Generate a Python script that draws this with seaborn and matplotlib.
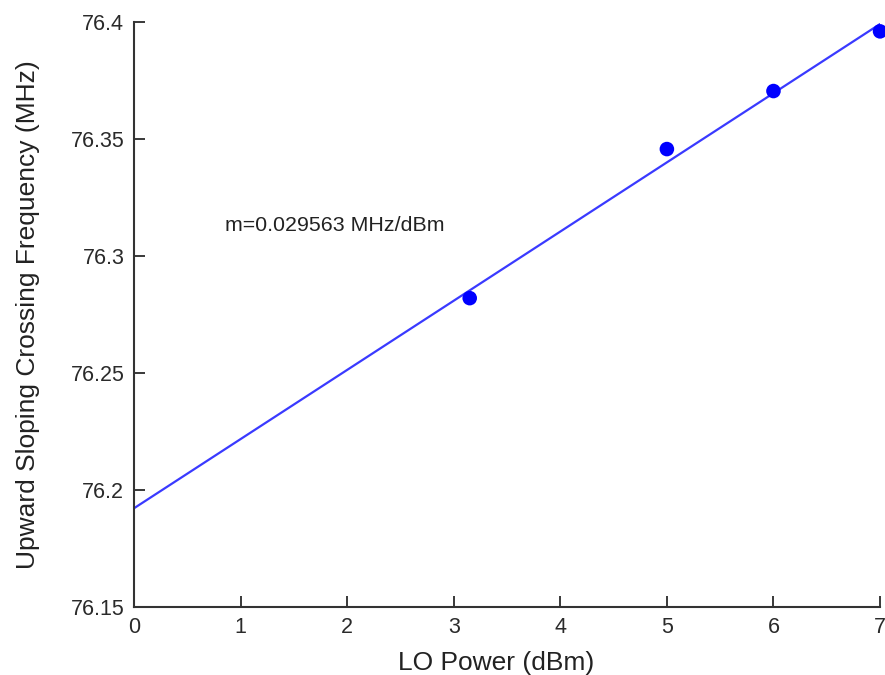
import matplotlib
matplotlib.use("Agg")
import matplotlib.pyplot as plt
import seaborn as sns
import numpy as np
import pandas as pd

# Data
lo_power = [3.15, 5.0, 6.0, 7.0]
crossing_freq = [76.282, 76.3457, 76.3705, 76.396]
fit_slope = 0.029563
fit_intercept = 76.1922
fit_x_range = [0.0, 7.0]
annotation = "m=0.029563 MHz/dBm"
x_ticks = [0, 1, 2, 3, 4, 5, 6, 7]
y_ticks = [76.15, 76.2, 76.25, 76.3, 76.35, 76.4]
y_tick_labels = ["76.15", "76.2", "76.25", "76.3", "76.35", "76.4"]

sns.set_style("ticks")
plt.rcParams['font.family'] = ['Liberation Sans', 'DejaVu Sans']

fig = plt.figure(figsize=(8.85, 6.75), dpi=100)
ax = fig.add_axes([0.1514, 0.1007, 0.843, 0.8667])

fit_df = pd.DataFrame({"x": fit_x_range,
                       "y": [fit_intercept + fit_slope * v for v in fit_x_range]})
sns.lineplot(data=fit_df, x="x", y="y", ax=ax, color="#3a3aff", linewidth=1.6)

pts = pd.DataFrame({"x": lo_power, "y": crossing_freq})
sns.scatterplot(data=pts, x="x", y="y", ax=ax, color="#0000ff", s=110,
                edgecolor="none", clip_on=False, zorder=5)

ax.set_xlim(0, 7)
ax.set_ylim(76.15, 76.4)
ax.set_xticks(x_ticks)
ax.set_yticks(y_ticks)
ax.set_yticklabels(y_tick_labels)
ax.tick_params(direction="in", length=8, width=1.3, labelsize=15.5, colors="#2a2a2a", pad=7)
for s in ["top", "right"]:
    ax.spines[s].set_visible(False)
for s in ["left", "bottom"]:
    ax.spines[s].set_linewidth(1.5)
    ax.spines[s].set_color("#333333")

ax.set_xlabel("LO Power (dBm)", fontsize=19, color="#222222", labelpad=8)
ax.xaxis.set_label_coords(0.486, -0.075)
ax.set_ylabel("Upward Sloping Crossing Frequency (MHz)", fontsize=19, color="#222222", labelpad=22)

ax.text(0.85, 76.3132, annotation, fontsize=15.4, color="#222222", va="center", ha="left")

fig.savefig("out.png", dpi=100)
